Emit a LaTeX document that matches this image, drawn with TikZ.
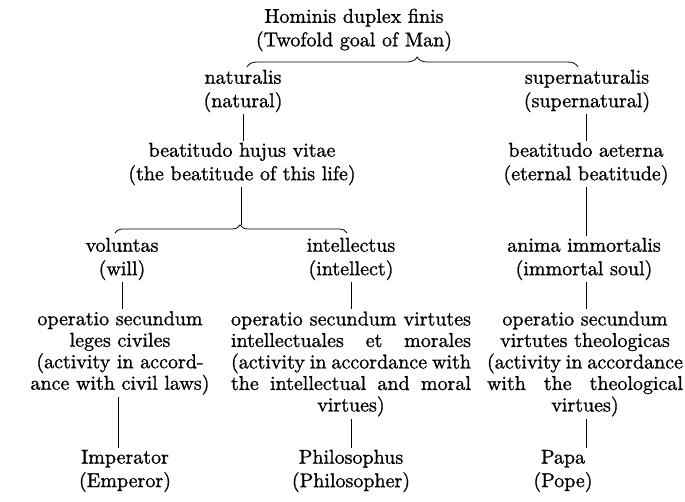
\documentclass[tikz,border=0pt]{standalone}
\usepackage{fontspec}
\setmainfont{lmroman10-regular.otf}[FakeBold=1]
\usetikzlibrary{decorations.pathreplacing}
\begin{document}
\begin{tikzpicture}[x=1pt, y=-1pt]
  \tikzset{
    head_node/.style={align=center, inner sep=2pt, font=\fontsize{20}{23.5}\selectfont},
    body_node/.style={align=center, inner sep=2pt, font=\fontsize{20}{21.5}\selectfont},
    stem/.style={line width=0.9pt},
    brace_line/.style={line width=0.8pt, decorate, decoration={brace, amplitude=#1}}
  }

  % Marco de la figura
  \useasboundingbox (0,0) rectangle (685,502);

  % Nodo superior
  \node[head_node] (goal) at (354,30) {Hominis duplex finis\\(Twofold goal of Man)};

  % Fines natural y sobrenatural
  \node[head_node] (nat) at (243,91) {naturalis\\(natural)};
  \node[head_node] (supnat) at (587,91) {supernaturalis\\(supernatural)};
  \node[head_node] (beat_vitae) at (242,164) {beatitudo hujus vitae\\(the beatitude of this life)};
  \node[head_node] (beat_aet) at (586,164) {beatitudo aeterna\\(eternal beatitude)};

  % Facultades
  \node[head_node] (will) at (122,259) {voluntas\\(will)};
  \node[head_node] (intel) at (351,259) {intellectus\\(intellect)};
  \node[head_node] (anima) at (584,259) {anima immortalis\\(immortal soul)};

  % Operaciones
  \node[body_node] (op_civ) at (120,353) {operatio secundum\\leges civiles\\(activity in accord-\\ance with civil laws)};
  \node[body_node] (op_intel) at (351,364) {\makebox[240pt][s]{operatio secundum virtutes}\\
    \makebox[240pt][s]{intellectuales et morales}\\
    \makebox[240pt][s]{(activity in accordance with}\\
    \makebox[240pt][s]{the intellectual and moral}\\virtues)};
  \node[body_node] (op_theo) at (585,364) {operatio secundum\\virtutes theologicas\\
    \makebox[196pt][s]{(activity in accordance}\\
    \makebox[196pt][s]{with the theological}\\virtues)};

  % Figuras finales
  \node[head_node] (imp) at (125,471) {Imperator\\(Emperor)};
  \node[head_node] (phil) at (351,471) {Philosophus\\(Philosopher)};
  \node[head_node] (papa) at (563,471) {Papa\\(Pope)};

  % Llaves
  \coordinate (top_left) at (247,67);
  \coordinate (top_right) at (578,67);
  \coordinate (low_left) at (115,233);
  \coordinate (low_right) at (347,233);
  \coordinate (low_tip) at (241,225);
  \draw[brace_line=10pt, decoration={aspect=0.514}] (top_left) -- (top_right);
  \draw[brace_line=8pt, decoration={aspect=0.539}] (low_left) -- (low_right);

  % Aristas verticales
  \draw[stem] (nat.south) -- (nat.south |- beat_vitae.north);
  \draw[stem] (supnat.south -| beat_aet) -- (beat_aet.north);
  \draw[stem] (beat_vitae.south -| low_tip) -- (low_tip);
  \draw[stem] (beat_aet.south -| beat_aet) -- (anima.north -| beat_aet);
  \draw[stem] (will.south) -- (will.south |- op_civ.north);
  \draw[stem] (intel.south) -- (intel.south |- op_intel.north);
  \draw[stem] (anima.south -| beat_aet) -- (op_theo.north -| beat_aet);
  \draw[stem] (op_civ.south -| 118,0) -- (imp.north -| 118,0);
  \draw[stem] (op_intel.south -| intel) -- (phil.north -| intel);
  \draw[stem] (op_theo.south -| beat_aet) -- (papa.north -| beat_aet);
\end{tikzpicture}
\end{document}
